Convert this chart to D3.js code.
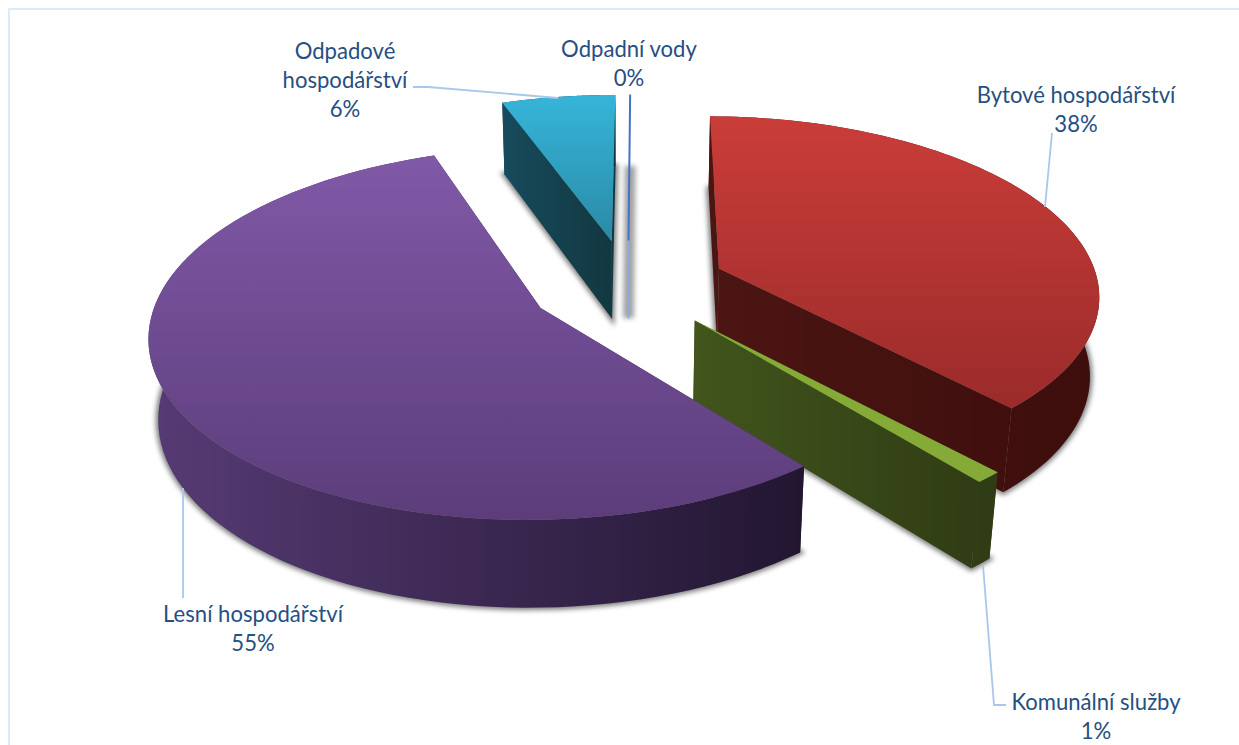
<!DOCTYPE html>
<html>
<head>
<meta charset="utf-8">
<script src="https://cdn.jsdelivr.net/npm/d3@7"></script>
<style>
html, body { margin: 0; padding: 0; background: #fff; overflow: hidden; }
svg { display: block; }
text { font-family: Lato, "Open Sans", sans-serif; font-size: 22.1px; fill: #264f82; text-anchor: middle; }
</style>
</head>
<body>
<svg width="1239" height="745"></svg>
<script>
// chart data, in drawing order of the pie (clockwise from the top)
var categories = ['Bytové hospodářství', 'Komunální služby', 'Lesní hospodářství', 'Odpadové hospodářství', 'Odpadní vody'];
var values = [38, 1, 55.4, 5.6, 0];

// colours per category
var topColors = [['#ca3d39', '#9a2b2a'], ['#85aa38', '#85aa38'], ['#8059a7', '#5c3d7a'], ['#36b5d9', '#2a8aa6'], ['#4472c4', '#4472c4']];
var wallColors = [['#4b1512', '#3d0e0c'], ['#41551c', '#2f3b14'], ['#563b74', '#221631'], ['#174b5d', '#12373f'], ['#8fa9d8', '#8fa9d8']];

// label layout: text lines, centre x, first baseline
var labelLines = [['Bytové hospodářství'], ['Komunální služby'], ['Lesní hospodářství'], ['Odpadové', 'hospodářství'], ['Odpadní vody']];
var labelX = [1076, 1096, 253, 345, 629];
var labelY = [103, 710, 622, 59, 57];
var lineStep = 29;

// leader lines from label to slice
var leaders = [
    [[1052, 133], [1045, 207]],
    [[1006, 705], [994, 705], [983, 565]],
    [[183, 598], [183, 488]],
    [[413, 87], [428, 87], [558, 98]]
];

// projection of the tilted pie
var center = {x: 628, y: 285};
var rx = 380, ry = 176.7, tilt = 0.134, depth = 81, depthScale = 0.02;
var explode = 0.26;

function project(px, py, z) {
    var w = 1 - tilt * py + depthScale * z;
    return [center.x + rx * px / w, center.y + (ry * py + depth * z) / w];
}

var svg = d3.select('svg');
var defs = svg.append('defs');

defs.append('filter').attr('id', 'blur')
    .attr('x', '-50%').attr('y', '-50%').attr('width', '200%').attr('height', '200%')
    .append('feGaussianBlur').attr('stdDeviation', 2.6);

// chart frame
svg.append('rect')
    .attr('x', 9).attr('y', 9)
    .attr('width', 1300).attr('height', 800)
    .attr('fill', 'none')
    .attr('stroke', '#d6e4f4')
    .attr('stroke-width', 1.5);

var pie = d3.pie()
    .sort(null)
    .value(function(d) { return d; })
    .startAngle(0.3 * Math.PI / 180)
    .endAngle((360 + 0.3) * Math.PI / 180);

var slices = pie(values);
var line = d3.line();

slices.forEach(function(s) {
    var mid = (s.startAngle + s.endAngle) / 2;
    s.ox = explode * Math.sin(mid);
    s.oy = -explode * Math.cos(mid);
});

function apex(s, z) {
    return project(s.ox, s.oy, z);
}

// points along the outer edge of a slice
function rim(s, z) {
    var steps = 90;
    var angle = d3.scaleLinear().domain([0, steps]).range([s.startAngle, s.endAngle]);
    return d3.range(steps + 1).map(function(i) {
        var a = angle(i);
        return project(s.ox + Math.sin(a), s.oy - Math.cos(a), z);
    });
}

function gradient(id, colors, x1, y1, x2, y2) {
    var g = defs.append('linearGradient').attr('id', id)
        .attr('gradientUnits', 'userSpaceOnUse')
        .attr('x1', x1).attr('y1', y1).attr('x2', x2).attr('y2', y2);
    g.append('stop').attr('offset', 0).attr('stop-color', colors[0]);
    g.append('stop').attr('offset', 1).attr('stop-color', colors[1]);
    return 'url(#' + id + ')';
}

// shadows go under everything
var shadowG = svg.append('g').attr('filter', 'url(#blur)');
slices.forEach(function(s) {
    var base = [apex(s, 1)].concat(rim(s, 1));
    shadowG.append('path')
        .attr('d', line(base) + 'Z')
        .attr('fill', '#000')
        .attr('stroke', '#000')
        .attr('stroke-width', s.value === 0 ? 11 : 5)
        .attr('opacity', s.value === 0 ? 0.36 : 0.5);
});

// back to front
var drawOrder = [4, 3, 0, 1, 2];
drawOrder.forEach(function(i) {
    var s = slices[i];
    var g = svg.append('g').attr('class', 'slice');
    var topRim = rim(s, 0);
    var lowRim = rim(s, 1);
    var allPts = topRim.concat(lowRim, [apex(s, 0), apex(s, 1)]);
    var xExt = d3.extent(allPts, function(p) { return p[0]; });
    var yExt = d3.extent(topRim.concat([apex(s, 0)]), function(p) { return p[1]; });
    var wallFill = gradient('wall' + i, wallColors[i], xExt[0], 0, xExt[1], 0);
    var topFill = gradient('top' + i, topColors[i], 0, yExt[0], 0, yExt[1]);

    if (s.value === 0) {
        g.append('path')
            .attr('d', line([apex(s, 0), apex(s, 1)]))
            .attr('stroke', wallColors[i][0])
            .attr('stroke-width', 1.5);
        g.append('path')
            .attr('d', line([apex(s, 0), topRim[0]]))
            .attr('stroke', topColors[i][0])
            .attr('stroke-width', 2);
        return;
    }

    // cut faces
    var a0 = apex(s, 0), a1 = apex(s, 1);
    [[topRim[0], lowRim[0]], [topRim[topRim.length - 1], lowRim[lowRim.length - 1]]].forEach(function(edge) {
        g.append('path')
            .attr('d', line([a0, edge[0], edge[1], a1]) + 'Z')
            .attr('fill', wallFill);
    });

    // outer wall
    g.append('path')
        .attr('d', line(topRim.concat(lowRim.slice().reverse())) + 'Z')
        .attr('fill', wallFill);

    // top face
    g.append('path')
        .attr('d', line([a0].concat(topRim)) + 'Z')
        .attr('fill', topFill);
});

// leader lines
svg.append('g').selectAll('path')
    .data(leaders)
    .enter().append('path')
    .attr('d', function(d) { return line(d); })
    .attr('fill', 'none')
    .attr('stroke', '#a9c7ea')
    .attr('stroke-width', 1.8);

// labels
categories.forEach(function(c, i) {
    var lines = labelLines[i];
    lines.forEach(function(t, k) {
        svg.append('text')
            .attr('x', labelX[i])
            .attr('y', labelY[i] + k * lineStep)
            .text(t);
    });
    svg.append('text')
        .attr('x', labelX[i])
        .attr('y', labelY[i] + lines.length * lineStep)
        .text(Math.round(values[i]) + '%');
});
</script>
</body>
</html>
